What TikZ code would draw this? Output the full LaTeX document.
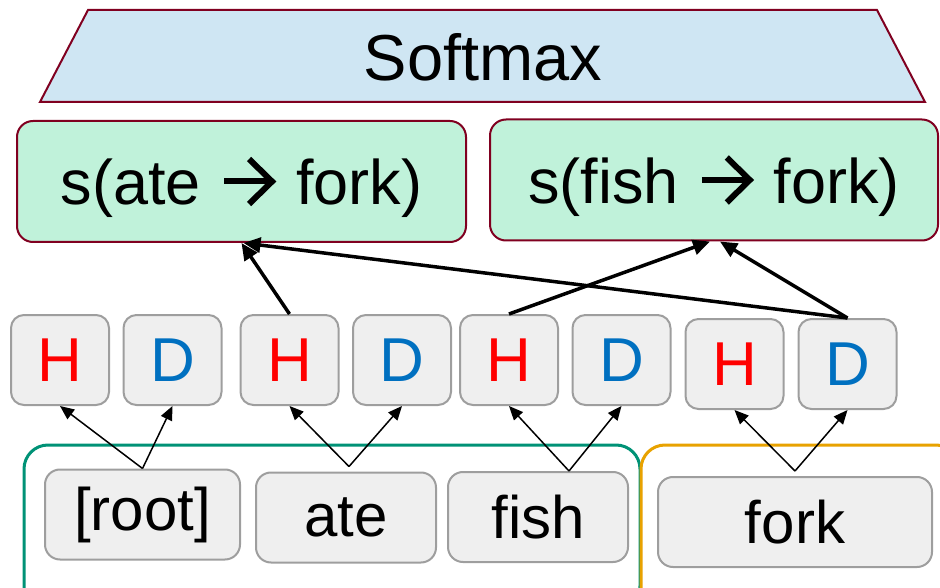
\documentclass[tikz,border=0pt]{standalone}
\usepackage{fontspec}
\setmainfont{Liberation Sans}
\usetikzlibrary{arrows.meta}

\definecolor{boxred}{RGB}{128,0,32}
\definecolor{smblue}{RGB}{207,230,243}
\definecolor{scoregreen}{RGB}{192,242,218}
\definecolor{cellgray}{RGB}{239,239,239}
\definecolor{cellline}{RGB}{158,158,158}
\definecolor{hred}{RGB}{255,0,0}
\definecolor{dblue}{RGB}{0,112,192}
\definecolor{grpgreen}{RGB}{0,146,118}
\definecolor{grporange}{RGB}{232,162,0}

% open-headed arrow used inside the score labels
\newcommand{\sarrow}{\tikz[baseline=0pt,x=1pt,y=1pt,line width=6pt,line join=miter,sharp corners]{%
    \useasboundingbox (0,0) rectangle (52,47);
    \draw[draw=black] (0,23.5) -- (47,23.5);
    \draw[draw=black] (25,46) -- (48,23.5) -- (25,1);}}

\tikzstyle{score}=[rounded corners=16pt, draw=boxred, line width=2pt, fill=scoregreen, minimum height=121pt, text height=62pt, text depth=15pt, font=\fontsize{63}{63}\selectfont]
\tikzstyle{cell}=[rounded corners=13pt, draw=cellline, line width=2pt, fill=cellgray, minimum width=98pt, minimum height=90pt, font=\fontsize{62}{62}\selectfont]
\tikzstyle{word}=[rounded corners=15pt, draw=cellline, line width=2pt, fill=cellgray, minimum height=90pt, font=\fontsize{60}{60}\selectfont]
\tikzstyle{fedge}=[-{Triangle[length=14pt,width=12pt]}, line width=1.5pt]
\tikzstyle{sedge}=[-{Triangle[length=17pt,width=15pt]}, line width=3.5pt]

\begin{document}
\begin{tikzpicture}[x=1pt,y=-1pt]
        \clip (0,0) rectangle (940,588);
        % softmax layer
        \filldraw[fill=smblue, draw=boxred, line width=2pt] (88,10) -- (877,10) -- (925,102) -- (40,102) -- cycle;
        \draw (483,57) node[font=\fontsize{65}{65}\selectfont](softmax){Softmax};
        %
        \draw (241.5,181.5) node[score, minimum width=449pt](sate){s(ate\kern23pt\sarrow\kern20pt fork)};
        \draw (714,180) node[score, minimum width=448pt](sfish){s(fish\kern23pt\sarrow\kern20pt fork)};
        %
        \draw (60,360) node[cell, text=hred](h1){H};
        \draw (172.5,360) node[cell, text=dblue](d1){D};
        \draw (289.5,360) node[cell, text=hred](h2){H};
        \draw (402,360) node[cell, text=dblue](d2){D};
        \draw (509,360) node[cell, text=hred](h3){H};
        \draw (621.5,360) node[cell, text=dblue](d3){D};
        \draw (734.5,364) node[cell, text=hred](h4){H};
        \draw (847.5,364) node[cell, text=dblue](d4){D};
        %
        \draw[grpgreen, line width=3pt, rounded corners=24pt] (24,445) rectangle (640,610);
        \draw[grporange, line width=3pt, rounded corners=24pt] (641,445) rectangle (960,610);
        %
        \draw (142.5,514.5) node[word, minimum width=195pt](root){[root]};
        \draw (346,517.5) node[word, minimum width=180pt](ate){ate};
        \draw (538,517) node[word, minimum width=180pt](fish){fish};
        \draw (795,522) node[word, minimum width=274pt](fork){fork};
        %
        \path
            (root.north)                 edge[fedge]     (h1.south)
            (root.north)                 edge[fedge]     (d1.south)
            ([xshift=3pt,yshift=5pt]ate.north)   edge[fedge]     (h2.south)
            ([xshift=3pt,yshift=5pt]ate.north)   edge[fedge]     (d2.south)
            ([xshift=31pt]fish.north)    edge[fedge]     (h3.south)
            ([xshift=31pt]fish.north)    edge[fedge]     (d3.south)
            ([yshift=5pt]fork.north)     edge[fedge]     (h4.south)
            ([yshift=5pt]fork.north)     edge[fedge]     (d4.south)
        ;
        \path
            (h2.north)     edge[sedge]     (sate.south)
            (d4.north)     edge[sedge]     ([xshift=2pt]sate.south)
            (h3.north)     edge[sedge]     ([xshift=-4pt]sfish.south)
            (d4.north)     edge[sedge]     ([xshift=6pt]sfish.south)
        ;
\end{tikzpicture}
\end{document}
